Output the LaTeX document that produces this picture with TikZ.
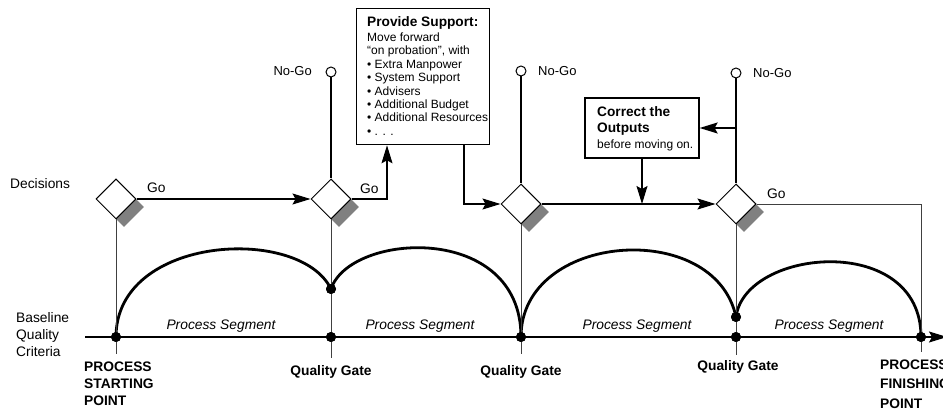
\documentclass[tikz,border=0pt]{standalone}
\usepackage{fontspec}
\setmainfont{Liberation Sans}
\usetikzlibrary{arrows.meta,shapes.geometric,shadows}
\begin{document}
\begin{tikzpicture}[x=1pt,y=-1pt,
  dec/.style={diamond, draw, line width=1pt, fill=white, minimum width=40pt, minimum height=40pt, inner sep=0pt,
    drop shadow={shadow xshift=8pt, shadow yshift=-8pt, opacity=1, fill=gray}},
  dot/.style={circle, fill=black, minimum size=10pt, inner sep=0pt},
  nogo/.style={circle, draw, line width=1pt, fill=white, minimum size=10pt, inner sep=0pt},
  conn/.style={line width=1.3pt},
  arr/.style={conn, -{Stealth[length=18pt,width=11pt,inset=3pt]}},
  thinl/.style={line width=0.9pt, black!75},
  arcl/.style={line width=2.8pt},
  box/.style={draw, line width=1.3pt, fill=white, inner sep=0pt},
  lbl/.style={font=\fontsize{13.8}{17}\selectfont, inner sep=0pt},
  blbl/.style={font=\fontsize{13.8}{17}\selectfont\bfseries, inner sep=0pt},
  ilbl/.style={font=\fontsize{13.8}{17}\selectfont\itshape, inner sep=0pt},
  small/.style={font=\fontsize{13}{15}\selectfont, inner sep=0pt},
]
\useasboundingbox (0,0) rectangle (943,414);

% points on baseline
\node[dot] (p0) at (116,337) {};
\node[dot] (g1) at (331,337) {};
\node[dot] (g1u) at (331,289) {};
\node[dot] (g2) at (521,337) {};
\node[dot] (g3) at (736,337) {};
\node[dot] (g3u) at (736,317) {};
\node[dot] (pf) at (921,337) {};
\coordinate (bs) at (85,337);
\coordinate (be) at (947,337);

% baseline
\draw[conn, -{Stealth[length=18pt,width=11pt,inset=3pt]}] (bs) -- (be);

% arcs
\draw[arcl] (p0.center) .. controls (116,235) and (300,225) .. (g1u.center);
\draw[arcl] (g1u.center) .. controls (350,232) and (521,222) .. (g2.center);
\draw[arcl] (g2.center) .. controls (521,232) and (715,218) .. (g3u.center);
\draw[arcl] (g3u.center) .. controls (745,248) and (921,232) .. (pf.center);

% decisions
\node[dec] (d1) at (116,199) {};
\node[dec] (d2) at (331,199) {};
\node[dec] (d3) at (521,204) {};
\node[dec] (d4) at (736,204) {};

% vertical thin lines
\coordinate (e0) at (116,354);
\coordinate (e1) at (331,358);
\coordinate (e2) at (521,354);
\coordinate (e3) at (736,355);
\coordinate (ef) at (921,352);
\draw[thinl] (d1.south) -- (e0);
\draw[thinl] (d2.south) -- (e1);
\draw[thinl] (d3.south) -- (e2);
\draw[thinl] (d4.south) -- (e3);
\draw[thinl] (d4.east) -| (ef);
\node[dot] at (p0) {};
\node[dot] at (g1) {};
\node[dot] at (g1u) {};
\node[dot] at (g2) {};
\node[dot] at (g3) {};
\node[dot] at (g3u) {};
\node[dot] at (pf) {};

% No-Go
\node[nogo] (n2) at (331,72) {};
\node[nogo] (n3) at (521,71) {};
\node[nogo] (n4) at (736,73) {};
\draw[conn] (n2.south) -- (d2.north);
\draw[conn] (n3.south) -- (d3.north);
\draw[conn] (n4.south) -- (d4.north);
\node[small, anchor=east] (ng2) at (312,71) {No-Go};
\node[small, anchor=west] (ng3) at (538,71) {No-Go};
\node[small, anchor=west] (ng4) at (753,73) {No-Go};

% Provide support box
\node[box, anchor=north west, minimum width=133pt, minimum height=136pt] (ps) at (356,8) {};
\node[anchor=north west, align=left, inner sep=0pt, font=\fontsize{12}{13.4}\selectfont] (pst) at (367,16)
 {{\fontsize{13.7}{16}\selectfont\bfseries Provide Support:}\\[2pt]
  Move forward\\
  “on probation”, with\\
  • Extra Manpower\\
  • System Support\\
  • Advisers\\
  • Additional Budget\\
  • Additional Resources\\
  • . . .};

% Correct box
\node[box, minimum width=114pt, minimum height=60pt] (cb) at (642,128) {};
\node[anchor=north west, align=left, inner sep=0pt, font=\fontsize{13.7}{16}\selectfont\bfseries] (cbt) at (597,106)
 {Correct the\\
  Outputs\\[0.5pt]
  {\fontsize{12}{13.4}\mdseries\selectfont before moving on.}};

% connectors
\coordinate (k1) at (387,199);
\coordinate (k2) at (464,204);
\coordinate (c3) at (736,128);
\draw[arr] (d1.east) -- (d2.west);
\draw[arr] (d2.east) -| (k1 |- ps.south);
\draw[arr] (ps.south -| k2) |- (d3.west);
\draw[arr] (d3.east) -- (d4.west);
\draw[arr] (cb.south) -- (cb.south |- d4.west);
\draw[arr] (c3) -- (cb.east);

% Go labels
\node[lbl, anchor=west] (go1) at (147,188) {Go};
\node[lbl, anchor=west] (go2) at (360,189) {Go};
\node[lbl, anchor=west] (go4) at (767,194) {Go};

% left labels
\node[lbl, anchor=west] (decl) at (10,184) {Decisions};
\node[lbl, anchor=west, align=left] (bqc) at (16,335) {Baseline\\Quality\\Criteria};

% process segments
\node[ilbl] (s1) at (221,326) {Process Segment};
\node[ilbl] (s2) at (420,326) {Process Segment};
\node[ilbl] (s3) at (637,326) {Process Segment};
\node[ilbl] (s4) at (829,326) {Process Segment};

% bottom labels
\node[blbl, anchor=west, align=left] (psp) at (84,384) {PROCESS\\STARTING\\POINT};
\node[blbl] (q1) at (331,372) {Quality Gate};
\node[blbl] (q2) at (521,372) {Quality Gate};
\node[blbl] (q3) at (738,367) {Quality Gate};
\node[blbl, anchor=west, align=left, font=\fontsize{13.8}{19.5}\selectfont\bfseries] (pfp) at (880,384) {PROCESS\\FINISHING\\POINT};
\end{tikzpicture}
\end{document}
